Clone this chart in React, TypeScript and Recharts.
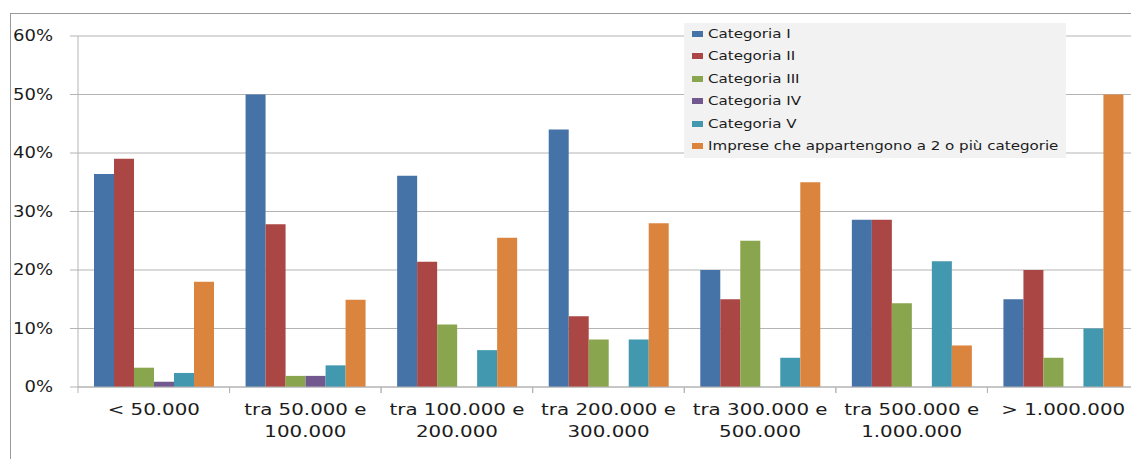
import React from "react";
import { BarChart, Bar, XAxis, YAxis, CartesianGrid, Legend } from "recharts";

const categories = [
  "< 50.000",
  "tra 50.000 e\n100.000",
  "tra 100.000 e\n200.000",
  "tra 200.000 e\n300.000",
  "tra 300.000 e\n500.000",
  "tra 500.000 e\n1.000.000",
  "> 1.000.000",
];
const categoria1 = [36.4, 50, 36.1, 44, 20, 28.6, 15];
const categoria2 = [39, 27.8, 21.4, 12.1, 15, 28.6, 20];
const categoria3 = [3.3, 1.9, 10.7, 8.1, 25, 14.3, 5];
const categoria4 = [0.9, 1.9, null, null, null, null, null];
const categoria5 = [2.4, 3.7, 6.3, 8.1, 5, 21.5, 10];
const multiple = [18, 14.9, 25.5, 28, 35, 7.1, 50];
const yTicks = [0, 10, 20, 30, 40, 50, 60];

const seriesNames = [
  "Categoria I",
  "Categoria II",
  "Categoria III",
  "Categoria IV",
  "Categoria V",
  "Imprese che appartengono a 2 o più categorie",
];
const seriesKeys = ["c1", "c2", "c3", "c4", "c5", "multi"];
const seriesColors = ["#4572A7", "#AA4643", "#89A54E", "#71588F", "#4198AF", "#DB843D"];

const data = categories.map((name, i) => ({
  name,
  c1: categoria1[i],
  c2: categoria2[i],
  c3: categoria3[i],
  c4: categoria4[i],
  c5: categoria5[i],
  multi: multiple[i],
}));

const CHART_W = 1139;
const Y_W = 78;
const BAND = (CHART_W - Y_W) / categories.length;

const FONT = "'DejaVu Sans', sans-serif";
const TEXT = "#1c1c1c";
const GRID = "#b4b4b4";

const YTick = (props: any) => {
  const { x, y, payload } = props;
  return (
    <g transform={`translate(${x},${y})`}>
      <text
        transform="scale(1.2,1)"
        textAnchor="end"
        dy="0.36em"
        fontFamily={FONT}
        fontSize={15}
        fill={TEXT}
      >
        {`${payload.value}%`}
      </text>
    </g>
  );
};

const XTick = (props: any) => {
  const { x, y, payload } = props;
  const lines = String(payload.value).split("\n");
  const axisY = 387;
  return (
    <g>
      <line x1={x - BAND / 2} x2={x - BAND / 2} y1={axisY} y2={axisY + 6} stroke={GRID} />
      <line x1={x + BAND / 2} x2={x + BAND / 2} y1={axisY} y2={axisY + 6} stroke={GRID} />
      <g transform={`translate(${x},${axisY + 28})`}>
        <g transform="scale(1.24,1)">
          {lines.map((l, i) => (
            <text
              key={i}
              x={0}
              y={i * 22}
              textAnchor="middle"
              fontFamily={FONT}
              fontSize={16}
              fill={TEXT}
            >
              {l}
            </text>
          ))}
        </g>
      </g>
    </g>
  );
};

const LegendContent = () => (
  <div
    style={{
      width: 382,
      height: 135,
      background: "#f2f2f2",
      position: "relative",
      fontFamily: FONT,
      fontSize: 13,
      color: TEXT,
    }}
  >
    {seriesNames.map((n, i) => (
      <div
        key={n}
        style={{
          position: "absolute",
          left: 0,
          top: 11 + i * 22.4 - 8,
          height: 16,
          width: 382,
          whiteSpace: "nowrap",
        }}
      >
        <span
          style={{
            position: "absolute",
            left: 8,
            top: 5,
            width: 11,
            height: 6,
            background: seriesColors[i],
          }}
        />
        <span
          style={{
            position: "absolute",
            left: 24,
            top: 0,
            lineHeight: "16px",
            display: "inline-block",
            transform: "scaleX(1.16)",
            transformOrigin: "left center",
          }}
        >
          {n}
        </span>
      </div>
    ))}
  </div>
);

export default function App() {
  return (
    <div
      style={{
        position: "absolute",
        left: 0,
        top: 0,
        width: 1131,
        height: 459,
        overflow: "hidden",
        background: "#fff",
      }}
    >
      <div
        style={{
          position: "absolute",
          left: 10,
          top: 13,
          width: 1300,
          height: 600,
          borderLeft: "1px solid #9a9a9a",
          borderTop: "1px solid #9a9a9a",
        }}
      />
      <div style={{ position: "absolute", left: 0, top: 0 }}>
        <BarChart
          width={CHART_W}
          height={459}
          data={data}
          margin={{ top: 36, right: 0, bottom: 12, left: 0 }}
          barCategoryGap={16}
          barGap={0}
        >
          <CartesianGrid horizontal vertical={false} stroke={GRID} strokeWidth={1} />
          <XAxis
            dataKey="name"
            height={60}
            axisLine={{ stroke: GRID }}
            tickLine={false}
            tick={<XTick />}
            interval={0}
          />
          <YAxis
            width={Y_W}
            domain={[0, 60]}
            ticks={yTicks}
            axisLine={{ stroke: GRID }}
            tickLine={{ stroke: GRID }}
            tickSize={8}
            tickMargin={17}
            tick={<YTick />}
            interval={0}
          />
          <Legend
            layout="vertical"
            align="center"
            verticalAlign="middle"
            content={<LegendContent />}
            wrapperStyle={{ position: "absolute", left: 684, top: 23, width: 382, height: 135 }}
          />
          {seriesKeys.map((k, i) => (
            <Bar
              key={k}
              dataKey={k}
              name={seriesNames[i]}
              fill={seriesColors[i]}
              isAnimationActive={false}
            />
          ))}
        </BarChart>
      </div>
    </div>
  );
}
